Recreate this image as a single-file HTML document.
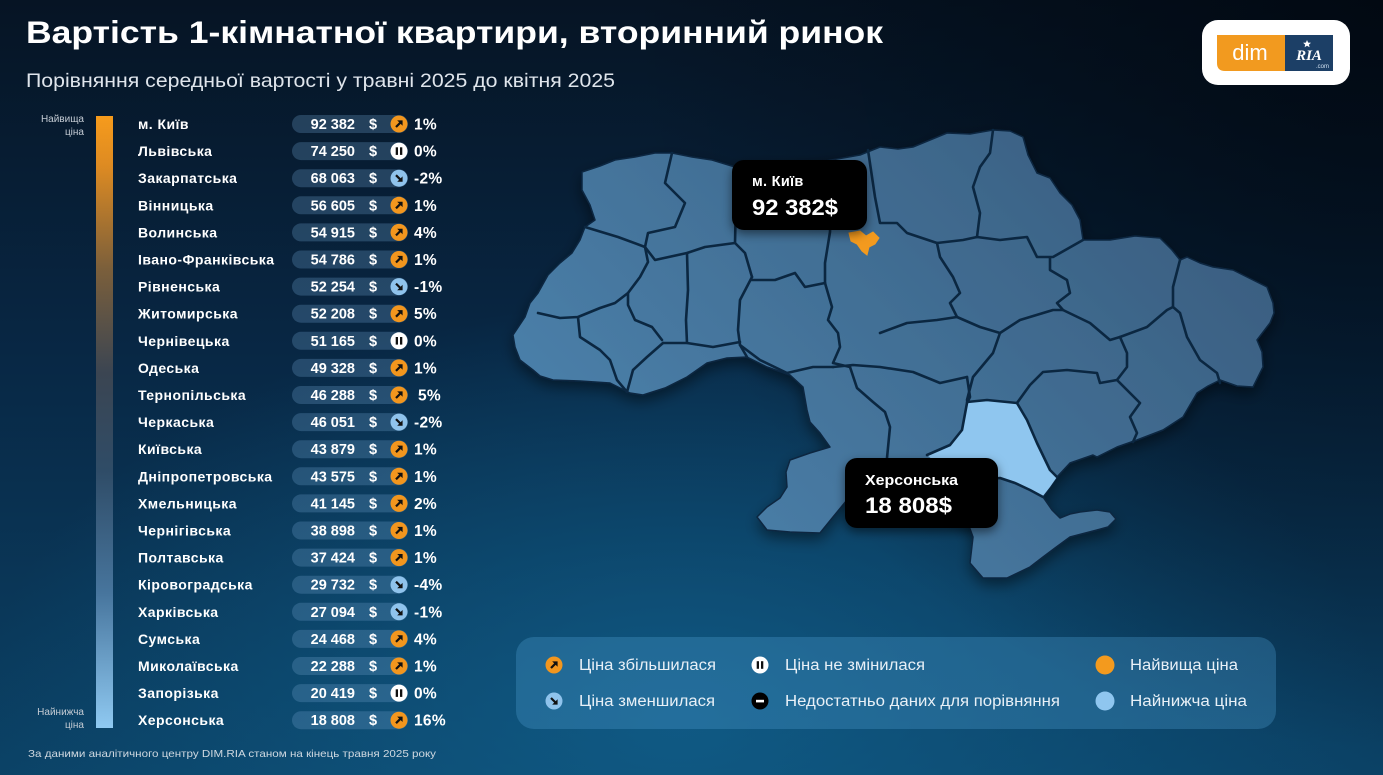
<!DOCTYPE html>
<html><head><meta charset="utf-8">
<style>
html,body{margin:0;padding:0;background:#061423;}
svg{display:block;}
.nm{font:bold 14px "Liberation Sans","DejaVu Sans",sans-serif;fill:#fff;letter-spacing:0.45px;}
.num{font:bold 14.5px "Liberation Sans","DejaVu Sans",sans-serif;fill:#fff;}
.pct{font:bold 15.5px "Liberation Sans","DejaVu Sans",sans-serif;fill:#fff;letter-spacing:0.3px;}
.pill{fill:rgba(105,155,200,0.30);}
.lg{font:15.5px "Liberation Sans","DejaVu Sans",sans-serif;fill:#e8f0f7;}
.sm{font:10px "Liberation Sans","DejaVu Sans",sans-serif;fill:#c5ccd4;}
.brd{fill:none;stroke:#0b2741;stroke-width:2.6;stroke-linejoin:round;stroke-linecap:round;}
</style></head>
<body>
<svg width="1383" height="775" viewBox="0 0 1383 775" xmlns="http://www.w3.org/2000/svg">
<defs>
<linearGradient id="bg" x1="0" y1="0" x2="0" y2="1">
<stop offset="0" stop-color="#061424"/>
<stop offset="0.45" stop-color="#082744"/>
<stop offset="1" stop-color="#0b4266"/>
</linearGradient>
<radialGradient id="glow" gradientUnits="userSpaceOnUse" cx="680" cy="720" r="700" gradientTransform="translate(680 720) scale(1 0.6) translate(-680 -720)">
<stop offset="0" stop-color="#11628f" stop-opacity="0.75"/>
<stop offset="1" stop-color="#11628f" stop-opacity="0"/>
</radialGradient>
<radialGradient id="dark" gradientUnits="userSpaceOnUse" cx="1383" cy="0" r="750">
<stop offset="0" stop-color="#01070f" stop-opacity="0.85"/>
<stop offset="1" stop-color="#01070f" stop-opacity="0"/>
</radialGradient>
<linearGradient id="mapf" gradientUnits="userSpaceOnUse" x1="1150" y1="130" x2="700" y2="580">
<stop offset="0" stop-color="#3a5e80"/>
<stop offset="1" stop-color="#4a80aa"/>
</linearGradient>
<linearGradient id="bar" x1="0" y1="0" x2="0" y2="1">
<stop offset="0" stop-color="#f69b1c"/>
<stop offset="0.08" stop-color="#de8b22"/>
<stop offset="0.25" stop-color="#7b5f3b"/>
<stop offset="0.42" stop-color="#3b4552"/>
<stop offset="0.58" stop-color="#2f4c67"/>
<stop offset="0.78" stop-color="#47759d"/>
<stop offset="1" stop-color="#8fc9f1"/>
</linearGradient>
<filter id="sh" x="-10%" y="-10%" width="120%" height="130%">
<feDropShadow dx="0" dy="6" stdDeviation="7" flood-color="#000" flood-opacity="0.45"/>
</filter>
<filter id="sh2" x="-20%" y="-20%" width="140%" height="150%">
<feDropShadow dx="0" dy="4" stdDeviation="5" flood-color="#000" flood-opacity="0.5"/>
</filter>
<g id="up"><circle r="8.5" fill="#f2961e"/><path d="M-3,3 L2,-2" stroke="#111" stroke-width="2.2"/><path d="M-1.8,-3.6 L3.6,-3.6 L3.6,1.8 Z" fill="#111"/></g>
<g id="dn"><circle r="8.5" fill="#8fc3ec"/><path d="M-3,-3 L2,2" stroke="#111" stroke-width="2.2"/><path d="M-1.8,3.6 L3.6,3.6 L3.6,-1.8 Z" fill="#111"/></g>
<g id="ps"><circle r="8.5" fill="#fff"/><rect x="-3.3" y="-3.8" width="2.3" height="7.6" fill="#111"/><rect x="1" y="-3.8" width="2.3" height="7.6" fill="#111"/></g>
</defs>

<!-- background -->
<rect width="1383" height="775" fill="url(#bg)"/>
<rect width="1383" height="775" fill="url(#glow)"/>
<rect width="1383" height="775" fill="url(#dark)"/>

<!-- title -->
<text x="26" y="43" textLength="857" lengthAdjust="spacingAndGlyphs" style="font:bold 31.5px 'Liberation Sans','DejaVu Sans',sans-serif;fill:#fff;">Вартість 1-кімнатної квартири, вторинний ринок</text>
<text x="26" y="87" textLength="589" lengthAdjust="spacingAndGlyphs" style="font:19.5px 'Liberation Sans','DejaVu Sans',sans-serif;fill:#dfe5ec;">Порівняння середньої вартості у травні 2025 до квітня 2025</text>

<!-- logo -->
<rect x="1202" y="20" width="148" height="65" rx="16" fill="#fff"/>
<path d="M1217,35 H1285 V71 H1225 Q1217,71 1217,63 Z" fill="#f29a1f"/>
<rect x="1285" y="35" width="48" height="36" fill="#1c3f66"/>
<text x="1250" y="60" text-anchor="middle" style="font:22px 'Liberation Sans','DejaVu Sans',sans-serif;fill:#fff;">dim</text>
<text x="1309" y="60" text-anchor="middle" style="font:italic bold 15px 'Liberation Serif','DejaVu Serif',serif;fill:#fff;">RIA</text>
<path d="M1307,40 l1.2,2.6 2.8,0.2 -2.1,1.8 0.7,2.7 -2.6,-1.5 -2.4,1.5 0.6,-2.7 -2.1,-1.8 2.8,-0.2z" fill="#fff"/>
<text x="1329" y="68" text-anchor="end" style="font:6px 'Liberation Sans',sans-serif;fill:#cfe0f0;">.com</text>

<!-- left scale bar -->
<rect x="96" y="116" width="17" height="612" fill="url(#bar)"/>
<text x="84" y="122" text-anchor="end" class="sm">Найвища</text>
<text x="84" y="135" text-anchor="end" class="sm">ціна</text>
<text x="84" y="715" text-anchor="end" class="sm">Найнижча</text>
<text x="84" y="728" text-anchor="end" class="sm">ціна</text>

<!-- rows -->
<g transform="translate(0,124)"><rect x="292" y="-9" width="116" height="18" rx="9" class="pill"/><text x="138" y="5" class="nm">м. Київ</text><text x="355" y="5" class="num" text-anchor="end">92 382</text><text x="369" y="5" class="num">$</text><use href="#up" x="399"/><text x="414" y="5.5" class="pct">1%</text></g>
<g transform="translate(0,151.1)"><rect x="292" y="-9" width="116" height="18" rx="9" class="pill"/><text x="138" y="5" class="nm">Львівська</text><text x="355" y="5" class="num" text-anchor="end">74 250</text><text x="369" y="5" class="num">$</text><use href="#ps" x="399"/><text x="414" y="5.5" class="pct">0%</text></g>
<g transform="translate(0,178.2)"><rect x="292" y="-9" width="116" height="18" rx="9" class="pill"/><text x="138" y="5" class="nm">Закарпатська</text><text x="355" y="5" class="num" text-anchor="end">68 063</text><text x="369" y="5" class="num">$</text><use href="#dn" x="399"/><text x="414" y="5.5" class="pct">-2%</text></g>
<g transform="translate(0,205.3)"><rect x="292" y="-9" width="116" height="18" rx="9" class="pill"/><text x="138" y="5" class="nm">Вінницька</text><text x="355" y="5" class="num" text-anchor="end">56 605</text><text x="369" y="5" class="num">$</text><use href="#up" x="399"/><text x="414" y="5.5" class="pct">1%</text></g>
<g transform="translate(0,232.4)"><rect x="292" y="-9" width="116" height="18" rx="9" class="pill"/><text x="138" y="5" class="nm">Волинська</text><text x="355" y="5" class="num" text-anchor="end">54 915</text><text x="369" y="5" class="num">$</text><use href="#up" x="399"/><text x="414" y="5.5" class="pct">4%</text></g>
<g transform="translate(0,259.5)"><rect x="292" y="-9" width="116" height="18" rx="9" class="pill"/><text x="138" y="5" class="nm">Івано-Франківська</text><text x="355" y="5" class="num" text-anchor="end">54 786</text><text x="369" y="5" class="num">$</text><use href="#up" x="399"/><text x="414" y="5.5" class="pct">1%</text></g>
<g transform="translate(0,286.6)"><rect x="292" y="-9" width="116" height="18" rx="9" class="pill"/><text x="138" y="5" class="nm">Рівненська</text><text x="355" y="5" class="num" text-anchor="end">52 254</text><text x="369" y="5" class="num">$</text><use href="#dn" x="399"/><text x="414" y="5.5" class="pct">-1%</text></g>
<g transform="translate(0,313.7)"><rect x="292" y="-9" width="116" height="18" rx="9" class="pill"/><text x="138" y="5" class="nm">Житомирська</text><text x="355" y="5" class="num" text-anchor="end">52 208</text><text x="369" y="5" class="num">$</text><use href="#up" x="399"/><text x="414" y="5.5" class="pct">5%</text></g>
<g transform="translate(0,340.8)"><rect x="292" y="-9" width="116" height="18" rx="9" class="pill"/><text x="138" y="5" class="nm">Чернівецька</text><text x="355" y="5" class="num" text-anchor="end">51 165</text><text x="369" y="5" class="num">$</text><use href="#ps" x="399"/><text x="414" y="5.5" class="pct">0%</text></g>
<g transform="translate(0,367.9)"><rect x="292" y="-9" width="116" height="18" rx="9" class="pill"/><text x="138" y="5" class="nm">Одеська</text><text x="355" y="5" class="num" text-anchor="end">49 328</text><text x="369" y="5" class="num">$</text><use href="#up" x="399"/><text x="414" y="5.5" class="pct">1%</text></g>
<g transform="translate(0,395)"><rect x="292" y="-9" width="116" height="18" rx="9" class="pill"/><text x="138" y="5" class="nm">Тернопільська</text><text x="355" y="5" class="num" text-anchor="end">46 288</text><text x="369" y="5" class="num">$</text><use href="#up" x="399"/><text x="418" y="5.5" class="pct">5%</text></g>
<g transform="translate(0,422.1)"><rect x="292" y="-9" width="116" height="18" rx="9" class="pill"/><text x="138" y="5" class="nm">Черкаська</text><text x="355" y="5" class="num" text-anchor="end">46 051</text><text x="369" y="5" class="num">$</text><use href="#dn" x="399"/><text x="414" y="5.5" class="pct">-2%</text></g>
<g transform="translate(0,449.2)"><rect x="292" y="-9" width="116" height="18" rx="9" class="pill"/><text x="138" y="5" class="nm">Київська</text><text x="355" y="5" class="num" text-anchor="end">43 879</text><text x="369" y="5" class="num">$</text><use href="#up" x="399"/><text x="414" y="5.5" class="pct">1%</text></g>
<g transform="translate(0,476.3)"><rect x="292" y="-9" width="116" height="18" rx="9" class="pill"/><text x="138" y="5" class="nm">Дніпропетровська</text><text x="355" y="5" class="num" text-anchor="end">43 575</text><text x="369" y="5" class="num">$</text><use href="#up" x="399"/><text x="414" y="5.5" class="pct">1%</text></g>
<g transform="translate(0,503.4)"><rect x="292" y="-9" width="116" height="18" rx="9" class="pill"/><text x="138" y="5" class="nm">Хмельницька</text><text x="355" y="5" class="num" text-anchor="end">41 145</text><text x="369" y="5" class="num">$</text><use href="#up" x="399"/><text x="414" y="5.5" class="pct">2%</text></g>
<g transform="translate(0,530.5)"><rect x="292" y="-9" width="116" height="18" rx="9" class="pill"/><text x="138" y="5" class="nm">Чернігівська</text><text x="355" y="5" class="num" text-anchor="end">38 898</text><text x="369" y="5" class="num">$</text><use href="#up" x="399"/><text x="414" y="5.5" class="pct">1%</text></g>
<g transform="translate(0,557.6)"><rect x="292" y="-9" width="116" height="18" rx="9" class="pill"/><text x="138" y="5" class="nm">Полтавська</text><text x="355" y="5" class="num" text-anchor="end">37 424</text><text x="369" y="5" class="num">$</text><use href="#up" x="399"/><text x="414" y="5.5" class="pct">1%</text></g>
<g transform="translate(0,584.7)"><rect x="292" y="-9" width="116" height="18" rx="9" class="pill"/><text x="138" y="5" class="nm">Кіровоградська</text><text x="355" y="5" class="num" text-anchor="end">29 732</text><text x="369" y="5" class="num">$</text><use href="#dn" x="399"/><text x="414" y="5.5" class="pct">-4%</text></g>
<g transform="translate(0,611.8)"><rect x="292" y="-9" width="116" height="18" rx="9" class="pill"/><text x="138" y="5" class="nm">Харківська</text><text x="355" y="5" class="num" text-anchor="end">27 094</text><text x="369" y="5" class="num">$</text><use href="#dn" x="399"/><text x="414" y="5.5" class="pct">-1%</text></g>
<g transform="translate(0,638.9)"><rect x="292" y="-9" width="116" height="18" rx="9" class="pill"/><text x="138" y="5" class="nm">Сумська</text><text x="355" y="5" class="num" text-anchor="end">24 468</text><text x="369" y="5" class="num">$</text><use href="#up" x="399"/><text x="414" y="5.5" class="pct">4%</text></g>
<g transform="translate(0,666)"><rect x="292" y="-9" width="116" height="18" rx="9" class="pill"/><text x="138" y="5" class="nm">Миколаївська</text><text x="355" y="5" class="num" text-anchor="end">22 288</text><text x="369" y="5" class="num">$</text><use href="#up" x="399"/><text x="414" y="5.5" class="pct">1%</text></g>
<g transform="translate(0,693.1)"><rect x="292" y="-9" width="116" height="18" rx="9" class="pill"/><text x="138" y="5" class="nm">Запорізька</text><text x="355" y="5" class="num" text-anchor="end">20 419</text><text x="369" y="5" class="num">$</text><use href="#ps" x="399"/><text x="414" y="5.5" class="pct">0%</text></g>
<g transform="translate(0,720.2)"><rect x="292" y="-9" width="116" height="18" rx="9" class="pill"/><text x="138" y="5" class="nm">Херсонська</text><text x="355" y="5" class="num" text-anchor="end">18 808</text><text x="369" y="5" class="num">$</text><use href="#up" x="399"/><text x="414" y="5.5" class="pct">16%</text></g>

<!-- footer -->
<text x="28" y="757" textLength="408" lengthAdjust="spacingAndGlyphs" style="font:10.5px 'Liberation Sans','DejaVu Sans',sans-serif;fill:#cfd8e0;">За даними аналітичного центру DIM.RIA станом на кінець травня 2025 року</text>

<!-- map -->
<g filter="url(#sh)">
<path fill="url(#mapf)" stroke="#0b2741" stroke-width="1.5" stroke-linejoin="round" d="M582,172 L600,166 L615,160 L635,157 L655,153 L672,153 L692,157 L712,160 L735,167 L780,168 L820,162 L860,155 L880,147 L898,149 L913,147 L930,140 L947,133 L970,134 L993,130 L1010,131 L1023,137 L1028,155 L1037,173 L1050,178 L1060,193 L1072,205 L1080,220 L1083,240 L1110,240 L1135,236 L1160,238 L1172,250 L1180,260 L1187,257 L1200,263 L1213,267 L1233,270 L1245,276 L1253,280 L1267,287 L1273,303 L1274,313 L1270,323 L1257,340 L1262,352 L1263,367 L1253,387 L1237,386 L1220,380 L1208,386 L1197,393 L1190,405 L1183,417 L1163,430 L1137,440 L1117,447 L1097,457 L1093,455 L1070,463 L1057,477 L1050,487 L1043,497 L1052,510 L1060,518 L1070,514 L1080,512 L1097,510 L1110,512 L1116,519 L1108,527 L1097,530 L1070,537 L1055,548 L1043,557 L1030,567 L1007,578 L983,578 L970,563 L973,537 L965,515 L940,505 L900,498 L865,492 L847,500 L833,517 L820,533 L790,532 L767,530 L757,517 L767,507 L780,498 L787,487 L786,472 L790,460 L810,453 L830,447 L820,433 L810,422 L807,410 L803,387 L790,375 L767,367 L747,357 L727,358 L707,363 L687,377 L665,388 L643,395 L630,393 L610,383 L580,381 L553,380 L540,376 L533,370 L520,360 L515,347 L513,335 L525,317 L530,303 L538,293 L548,275 L560,263 L572,253 L580,240 L585,227 L595,220 L590,205 L582,190 Z"/>
</g>
<!-- Kherson (lowest) -->
<path fill="#8fc6ef" d="M967,403 L987,400 L1017,403 L1027,420 L1037,443 L1050,470 L1057,477 L1050,487 L1043,496 L1030,490 L1015,483 L1000,478 L980,480 L960,475 L940,466 L927,455 L950,445 L962,430 Z"/>
<!-- Kyiv city (highest) -->
<path fill="#f39a1e" stroke="#f39a1e" stroke-width="1" d="M849,233 L860,231 L866,236 L873,232 L879,238 L875,244 L869,247 L867,255 L862,251 L857,244 L851,241 Z"/>
<!-- internal borders -->
<g class="brd">
<polyline points="672,153 665,183 685,203 675,227 648,233 645,247"/>
<polyline points="585,227 618,237 645,247"/>
<polyline points="738,170 736,200 735,243 745,253 752,277"/>
<polyline points="645,247 655,260 687,253 705,247 735,243"/>
<polyline points="645,247 648,262 640,277 628,293 628,305 635,320 652,327 662,340"/>
<polyline points="538,313 560,318 578,317 600,308 615,303 628,293"/>
<polyline points="578,317 580,337 600,350 610,360 617,380 627,392"/>
<polyline points="627,392 633,370 647,357 663,343"/>
<polyline points="687,253 688,290 686,320 687,343"/>
<polyline points="663,343 687,343 713,347 740,342"/>
<polyline points="752,277 740,300 738,330 740,345 747,357"/>
<polyline points="752,280 775,280 795,273 805,287 825,283"/>
<polyline points="832,165 830,232 825,263 825,283"/>
<polyline points="825,283 832,307 828,320 838,333 840,347 833,363 850,367"/>
<polyline points="740,345 760,360 787,373 813,367 833,367"/>
<polyline points="850,367 857,388 873,402 885,412 890,427 887,458"/>
<polyline points="833,367 853,365 880,367 913,372 940,383 967,377"/>
<polyline points="967,377 970,397 967,403 962,430 950,445 927,455"/>
<polyline points="868,150 875,197 880,223 897,223 907,233 937,243 963,240 977,237"/>
<polyline points="993,130 990,153 980,167 973,187 980,213 977,237"/>
<polyline points="977,237 1000,240 1027,237 1037,257 1053,257 1083,240"/>
<polyline points="1050,258 1050,270 1067,280 1070,293 1057,303 1063,310 1090,323 1110,340 1120,337 1147,327 1167,310 1173,307"/>
<polyline points="1180,260 1173,287 1173,307 1180,313 1187,337 1200,360 1217,373 1220,383"/>
<polyline points="1120,337 1127,353 1127,367 1117,380 1130,393 1140,403 1130,417 1137,433 1133,442"/>
<polyline points="937,243 940,257 953,277 960,293 950,303 957,317 980,327 1000,333 1020,320 1053,310 1063,310"/>
<polyline points="880,333 907,323 937,320 957,317"/>
<polyline points="1000,333 993,353 973,377 967,400"/>
<polyline points="967,402 987,400 1017,403"/>
<polyline points="1017,403 1030,385 1043,372 1067,370 1097,373 1100,383 1117,380"/>
<polyline points="1017,403 1027,420 1037,443 1050,470 1057,477"/>
<polyline points="975,480 1000,478 1015,483 1030,490 1043,497"/>
</g>

<!-- Kyiv callout -->
<g filter="url(#sh2)">
<rect x="732" y="160" width="135" height="70" rx="12" fill="#000"/>
</g>
<text x="752" y="186" style="font:bold 14.5px 'Liberation Sans','DejaVu Sans',sans-serif;fill:#fff;letter-spacing:0.3px;">м. Київ</text>
<text x="752" y="215" textLength="86" lengthAdjust="spacingAndGlyphs" style="font:bold 22px 'Liberation Sans','DejaVu Sans',sans-serif;fill:#fff;">92 382$</text>

<!-- Kherson callout -->
<g filter="url(#sh2)">
<rect x="845" y="458" width="153" height="70" rx="12" fill="#000"/>
</g>
<text x="865" y="485" textLength="93" lengthAdjust="spacingAndGlyphs" style="font:bold 14.5px 'Liberation Sans','DejaVu Sans',sans-serif;fill:#fff;">Херсонська</text>
<text x="865" y="513" textLength="87" lengthAdjust="spacingAndGlyphs" style="font:bold 22px 'Liberation Sans','DejaVu Sans',sans-serif;fill:#fff;">18 808$</text>

<!-- legend -->
<rect x="516" y="637" width="760" height="92" rx="18" fill="rgba(75,155,205,0.33)"/>
<use href="#up" x="554" y="665"/>
<text x="579" y="670" class="lg" textLength="137" lengthAdjust="spacingAndGlyphs">Ціна збільшилася</text>
<use href="#dn" x="554" y="701"/>
<text x="579" y="706" class="lg" textLength="136" lengthAdjust="spacingAndGlyphs">Ціна зменшилася</text>
<use href="#ps" x="760" y="665"/>
<text x="785" y="670" class="lg" textLength="140" lengthAdjust="spacingAndGlyphs">Ціна не змінилася</text>
<circle cx="760" cy="701" r="8.5" fill="#000"/>
<rect x="756" y="699.8" width="8" height="2.6" fill="#fff"/>
<text x="785" y="706" class="lg" textLength="275" lengthAdjust="spacingAndGlyphs">Недостатньо даних для порівняння</text>
<circle cx="1105" cy="665" r="9.5" fill="#f39a1e"/>
<text x="1130" y="670" class="lg" textLength="108" lengthAdjust="spacingAndGlyphs">Найвища ціна</text>
<circle cx="1105" cy="701" r="9.5" fill="#8fc6ef"/>
<text x="1130" y="706" class="lg" textLength="117" lengthAdjust="spacingAndGlyphs">Найнижча ціна</text>
</svg>
</body></html>
